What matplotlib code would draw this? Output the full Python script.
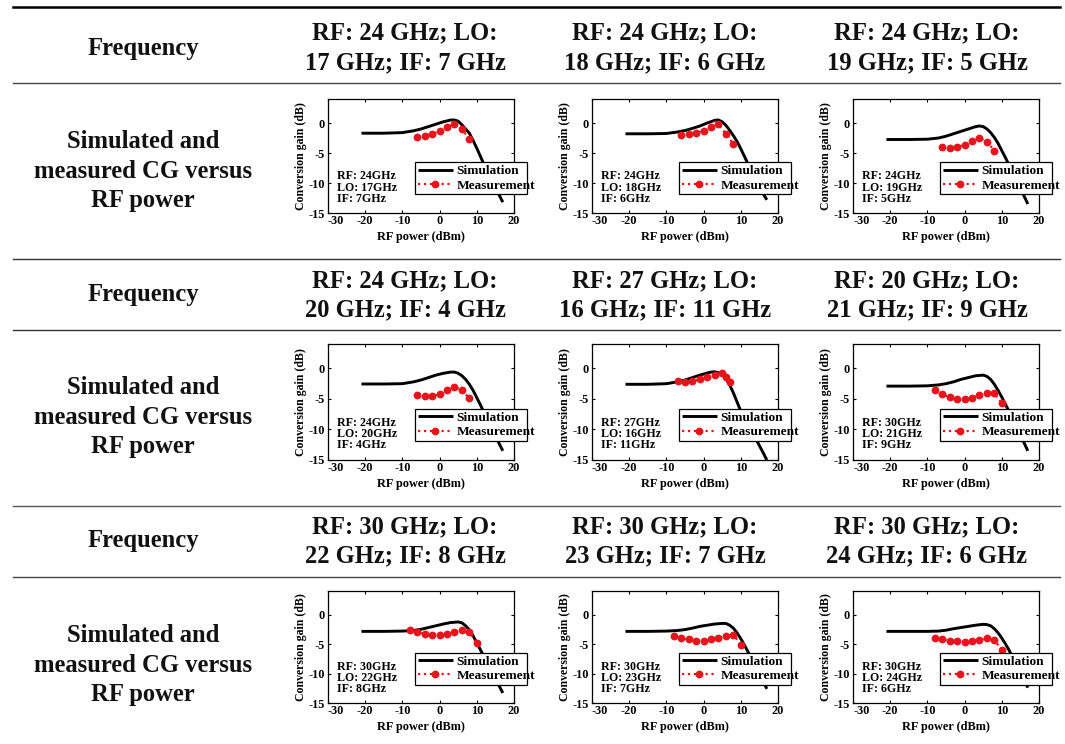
import matplotlib
matplotlib.use("Agg")
import matplotlib.pyplot as plt
from matplotlib.lines import Line2D

plt.rcParams["axes.unicode_minus"] = False

# ---------------- data ----------------
header_texts = [
    [["RF: 24 GHz; LO:", "17 GHz; IF: 7 GHz"], ["RF: 24 GHz; LO:", "18 GHz; IF: 6 GHz"], ["RF: 24 GHz; LO:", "19 GHz; IF: 5 GHz"]],
    [["RF: 24 GHz; LO:", "20 GHz; IF: 4 GHz"], ["RF: 27 GHz; LO:", "16 GHz; IF: 11 GHz"], ["RF: 20 GHz; LO:", "21 GHz; IF: 9 GHz"]],
    [["RF: 30 GHz; LO:", "22 GHz; IF: 8 GHz"], ["RF: 30 GHz; LO:", "23 GHz; IF: 7 GHz"], ["RF: 30 GHz; LO:", "24 GHz; IF: 6 GHz"]],
]
row_label_freq = "Frequency"
row_label_plot = ["Simulated and", "measured CG versus", "RF power"]

inset_labels = [
    ["RF: 24GHz\nLO: 17GHz\nIF: 7GHz", "RF: 24GHz\nLO: 18GHz\nIF: 6GHz", "RF: 24GHz\nLO: 19GHz\nIF: 5GHz"],
    ["RF: 24GHz\nLO: 20GHz\nIF: 4GHz", "RF: 27GHz\nLO: 16GHz\nIF: 11GHz", "RF: 30GHz\nLO: 21GHz\nIF: 9GHz"],
    ["RF: 30GHz\nLO: 22GHz\nIF: 8GHz", "RF: 30GHz\nLO: 23GHz\nIF: 7GHz", "RF: 30GHz\nLO: 24GHz\nIF: 6GHz"],
]

# simulation curves (RF power dBm, conversion gain dB)
sim_x_std = [-21, -15, -10, -7, -5, -3, -1, 1, 3, 4, 5, 6, 7, 8, 9, 10, 11, 12, 14, 16, 17]
sim1_y = [-1.7, -1.7, -1.6, -1.3, -1.0, -0.6, -0.2, 0.2, 0.5, 0.5, 0.3, -0.3, -1.0, -1.7, -2.9, -4.2, -5.6, -7.0, -9.5, -12.0, -13.2]
sim2_y = [-1.8, -1.8, -1.75, -1.5, -1.25, -0.9, -0.5, 0.0, 0.45, 0.5, 0.2, -0.4, -1.2, -2.1, -3.1, -4.3, -5.6, -6.9, -9.4, -11.8, -12.8]
sim3_y = [-2.75, -2.75, -2.7, -2.5, -2.2, -1.8, -1.4, -1.0, -0.6, -0.5, -0.6, -1.0, -1.6, -2.4, -3.4, -4.6, -5.8, -7.1, -9.6, -12.2, -13.5]
sim4_y = [-2.55, -2.55, -2.5, -2.2, -1.9, -1.5, -1.1, -0.8, -0.6, -0.6, -0.8, -1.2, -1.8, -2.6, -3.6, -4.8, -6.0, -7.3, -9.8, -12.3, -13.5]
sim5_x = [-21, -15, -10, -7, -5, -3, -1, 1, 2, 3, 4, 5, 6, 7, 8, 9, 10, 12, 14, 16, 17]
sim5_y = [-2.6, -2.6, -2.5, -2.2, -1.9, -1.5, -1.1, -0.75, -0.6, -0.55, -0.7, -1.0, -1.7, -2.7, -4.0, -5.5, -7.0, -9.3, -11.5, -13.8, -15.0]
sim_x_30 = [-21, -15, -10, -7, -5, -3, -1, 1, 3, 5, 6, 7, 8, 9, 10, 11, 12, 14, 16, 17]
sim6_y = [-2.9, -2.9, -2.85, -2.7, -2.5, -2.2, -1.8, -1.5, -1.2, -1.1, -1.3, -1.8, -2.6, -3.6, -4.7, -5.9, -7.1, -9.6, -12.2, -13.5]
sim7_y = [-2.85, -2.85, -2.8, -2.7, -2.5, -2.2, -1.9, -1.6, -1.35, -1.25, -1.4, -1.9, -2.6, -3.6, -4.8, -6.0, -7.2, -9.7, -12.1, -13.3]
sim8_y = [-2.85, -2.85, -2.8, -2.7, -2.55, -2.3, -2.0, -1.8, -1.6, -1.5, -1.5, -1.8, -2.3, -3.1, -4.1, -5.2, -6.4, -8.8, -11.3, -12.6]
sim9_y = [-2.85, -2.85, -2.85, -2.8, -2.65, -2.4, -2.2, -2.0, -1.8, -1.65, -1.7, -1.9, -2.4, -3.1, -4.0, -5.0, -6.1, -8.5, -11.0, -12.4]

# measurement points
meas_x_24 = [-6, -4, -2, 0, 2, 4, 6, 8]
meas1_y = [-2.25, -2.2, -1.8, -1.4, -0.7, -0.2, -1.0, -2.7]
meas2_y = [-2.0, -1.8, -1.6, -1.3, -0.7, -0.2, -1.8, -3.5]
meas3_y = [-4.0, -4.1, -4.0, -3.6, -3.0, -2.5, -3.1, -4.6]
meas4_y = [-4.3, -4.5, -4.5, -4.2, -3.6, -3.1, -3.5, -4.9]
meas5_x = [-7, -5, -3, -1, 1, 3, 5, 6, 7]
meas5_y = [-2.1, -2.2, -2.1, -1.8, -1.4, -1.0, -0.8, -1.4, -2.3]
meas_x_30 = [-8, -6, -4, -2, 0, 2, 4, 6, 8, 10]
meas6_y = [-3.5, -4.2, -4.7, -4.95, -5.05, -4.8, -4.4, -4.0, -4.1, -5.7]
meas7_y = [-2.6, -2.9, -3.3, -3.5, -3.5, -3.3, -3.0, -2.6, -2.9, -4.9]
meas8_y = [-3.6, -4.0, -4.2, -4.4, -4.4, -4.2, -4.0, -3.6, -3.4, -5.1]
meas9_y = [-3.9, -4.2, -4.4, -4.5, -4.6, -4.4, -4.3, -4.0, -4.3, -6.0]

sims = [[(sim_x_std, sim1_y), (sim_x_std, sim2_y), (sim_x_std, sim3_y)],
        [(sim_x_std, sim4_y), (sim5_x, sim5_y), (sim_x_30, sim6_y)],
        [(sim_x_30, sim7_y), (sim_x_30, sim8_y), (sim_x_30, sim9_y)]]
meass = [[(meas_x_24, meas1_y), (meas_x_24, meas2_y), (meas_x_24, meas3_y)],
         [(meas_x_24, meas4_y), (meas5_x, meas5_y), (meas_x_30, meas6_y)],
         [(meas_x_30, meas7_y), (meas_x_30, meas8_y), (meas_x_30, meas9_y)]]

xticks = [-30, -20, -10, 0, 10, 20]
yticks = [-15, -10, -5, 0]

# ---------------- layout ----------------
W, H = 1065, 744
fig = plt.figure(figsize=(W / 100, H / 100), dpi=100)

def fy(y):
    return 1 - y / H

def fx(x):
    return x / W

TABLE_FONT = dict(family="Liberation Serif", weight="bold", fontsize=17.7, color="#111111")
PLOT_FONT = "Liberation Serif"

# horizontal rules
for y, lw, col in [(7, 1.8, "#000000"), (83, 1.0, "#444444"), (259, 1.0, "#333333"),
                   (330, 1.0, "#333333"), (506, 1.0, "#555555"), (577, 1.0, "#444444")]:
    fig.add_artist(Line2D([fx(13), fx(1060)], [fy(y), fy(y)], transform=fig.transFigure,
                          color=col, lw=lw))

freq_y = [48, 295, 541]
head_y = [(33, 63), (281, 310), (527, 556)]
left_y = [(142, 172, 200), (388, 418, 447), (636, 665, 694)]
col_cx = [405, 665, 927]

for r in range(3):
    fig.text(fx(143), fy(freq_y[r]), row_label_freq, ha="center", va="center", **TABLE_FONT)
    for i, t in enumerate(row_label_plot):
        fig.text(fx(143), fy(left_y[r][i]), t, ha="center", va="center", **TABLE_FONT)
    for c in range(3):
        for i, t in enumerate(header_texts[r][c]):
            fig.text(fx(col_cx[c]), fy(head_y[r][i]), t, ha="center", va="center", **TABLE_FONT)

col_left = [328, 592, 853]
ax_w = 186
row_tb = [(99, 213), (344, 460), (591, 703)]

for r in range(3):
    for c in range(3):
        top, bot = row_tb[r]
        ax = fig.add_axes([fx(col_left[c]), fy(bot), ax_w / W, (bot - top) / H])
        sx, sy = sims[r][c]
        mx, my = meass[r][c]
        ax.plot(sx, sy, color="black", lw=2.1, label="Simulation", solid_capstyle="butt")
        ax.plot(mx, my, color="#e8141c", lw=1.6, ls=":", marker="o", markersize=4.6,
                label="Measurement")
        ax.set_xlim(-30, 20)
        ax.set_ylim(-15, 4)
        ax.set_xticks(xticks)
        ax.set_yticks(yticks)
        ax.tick_params(axis="x", direction="in", length=2.5, width=0.8, top=True, pad=1.5)
        ax.tick_params(axis="y", direction="in", length=2.5, width=0.8, right=True, pad=2.5)
        for lab in ax.get_xticklabels() + ax.get_yticklabels():
            lab.set_fontfamily(PLOT_FONT)
            lab.set_fontweight("bold")
            lab.set_fontsize(8.8)
        ax.xaxis.get_major_ticks()[0].label1.set_horizontalalignment("left")
        for sp in ax.spines.values():
            sp.set_linewidth(0.9)
        ax.set_ylabel("Conversion gain (dB)", fontfamily=PLOT_FONT, fontweight="bold",
                      fontsize=8.5, labelpad=1)
        ax.set_xlabel("RF power (dBm)", fontfamily=PLOT_FONT, fontweight="bold",
                      fontsize=8.8, labelpad=3)
        ax.text(-27.5, -7.9, inset_labels[r][c], fontfamily=PLOT_FONT, fontweight="bold",
                fontsize=8.6, va="top", ha="left", linespacing=0.9)
        leg = ax.legend(loc="lower left", bbox_to_anchor=(0.47, 0.165, 0.60, 0.262),
                        mode="expand", borderaxespad=0, frameon=True, fancybox=False,
                        handlelength=2.6, handletextpad=0.3, borderpad=0.2,
                        labelspacing=0.15, prop=dict(family=PLOT_FONT, weight="bold", size=9.6))
        leg.get_frame().set_edgecolor("black")
        leg.get_frame().set_linewidth(0.9)
        leg.get_frame().set_alpha(1)
        leg.set_zorder(5)

fig.savefig("out.png", dpi=100, facecolor="white")
